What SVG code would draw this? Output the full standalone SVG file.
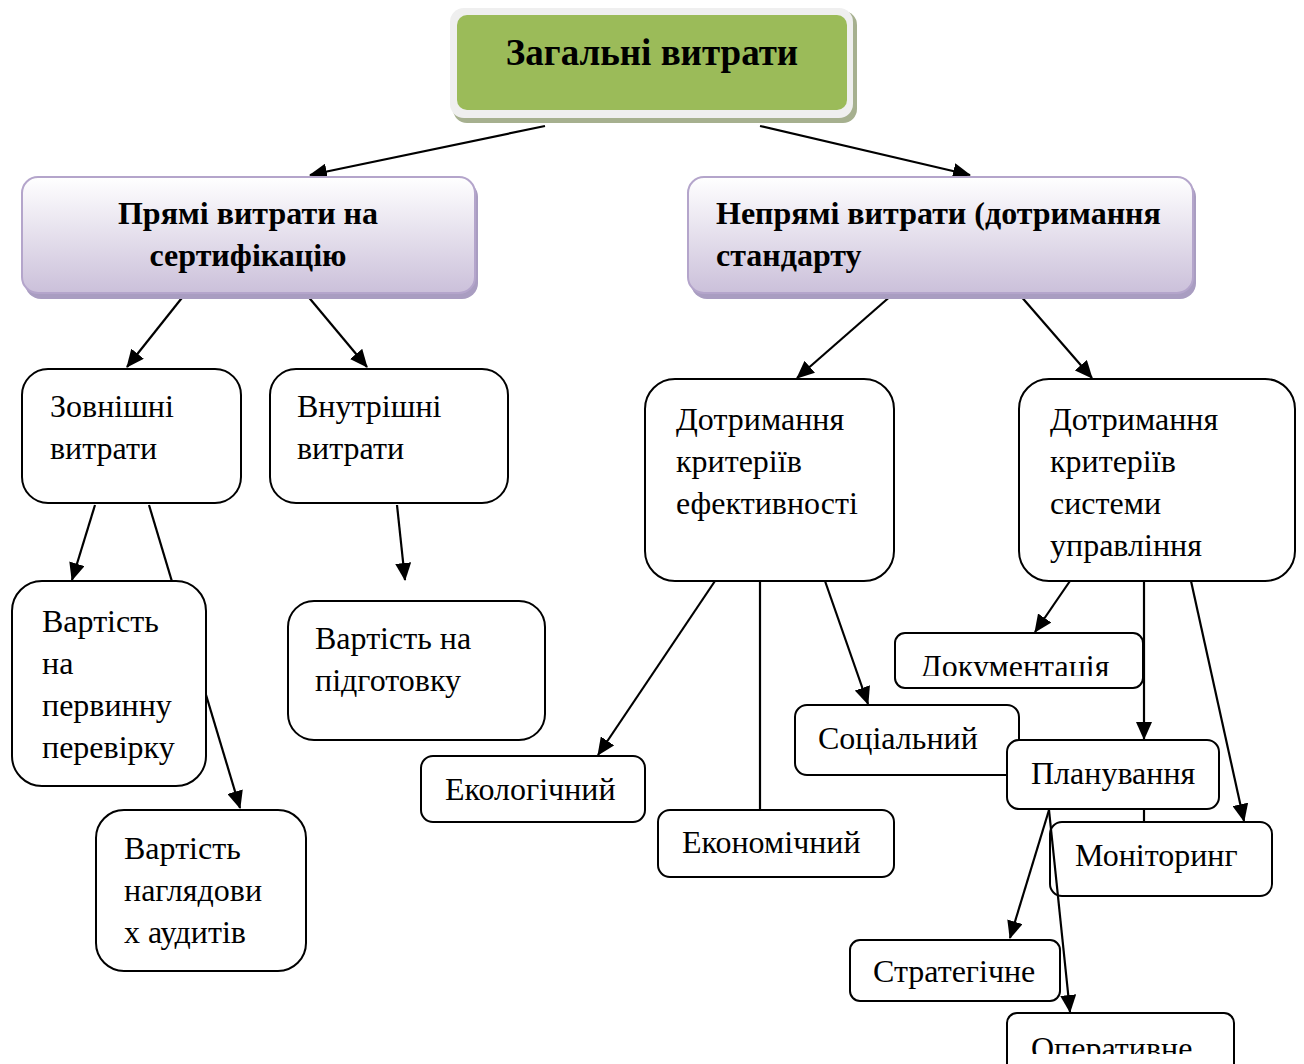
<svg xmlns="http://www.w3.org/2000/svg" width="1304" height="1064" viewBox="0 0 1304 1064">
<style>
.box{fill:#fff;stroke:#000;stroke-width:2}
.t{font-family:"Liberation Serif","Times New Roman",serif;font-size:32px;fill:#000}
.b{font-family:"Liberation Serif","Times New Roman",serif;font-size:32px;font-weight:bold;fill:#000}
.ln{stroke:#000;stroke-width:2.2;fill:none}
.ar{stroke:#000;stroke-width:2.2;fill:none;marker-end:url(#ah)}
</style>
<defs>
<marker id="ah" markerWidth="18" markerHeight="16" refX="17" refY="8" orient="auto" markerUnits="userSpaceOnUse">
<path d="M0,0 L18,8 L0,16 z" fill="#000"/>
</marker>
<linearGradient id="pg" x1="0" y1="0" x2="0" y2="1">
<stop offset="0" stop-color="#ffffff"/>
<stop offset="1" stop-color="#cbc0da"/>
</linearGradient>
<clipPath id="cDoc"><rect x="890" y="630" width="260" height="46"/></clipPath>
<clipPath id="cOp"><rect x="1000" y="1010" width="240" height="44"/></clipPath>
</defs>
<rect width="1304" height="1064" fill="#fff"/>

<g id="connectors">
<line class="ar" x1="545" y1="126" x2="310" y2="175"/>
<line class="ar" x1="760" y1="126" x2="970" y2="175"/>
<line class="ar" x1="185" y1="294" x2="127" y2="367"/>
<line class="ar" x1="306" y1="294" x2="367" y2="367"/>
<line class="ar" x1="893" y1="294" x2="797" y2="378"/>
<line class="ar" x1="1019" y1="294" x2="1092" y2="378"/>
<line class="ar" x1="95" y1="505" x2="72" y2="580"/>
<line class="ar" x1="149" y1="505" x2="240" y2="808"/>
<line class="ar" x1="397" y1="505" x2="405" y2="580"/>
<line class="ar" x1="715" y1="581" x2="598" y2="755"/>
<line class="ln" x1="760" y1="581" x2="760" y2="810"/>
<line class="ar" x1="825" y1="581" x2="868" y2="704"/>
<line class="ar" x1="1070" y1="581" x2="1035" y2="632"/>
<line class="ar" x1="1144" y1="581" x2="1144" y2="739"/>
<line class="ar" x1="1191" y1="581" x2="1244" y2="821"/>
<line class="ln" x1="1144" y1="809" x2="1144" y2="822"/>
</g>

<g id="n-total">
<rect x="453" y="11" width="404" height="112" rx="14" fill="#a6b08f"/>
<rect x="450" y="8" width="403" height="110" rx="14" fill="#efefef"/>
<rect x="457" y="15" width="390" height="95" rx="10" fill="#9bbb59"/>
<text class="b" x="652" y="65" text-anchor="middle" style="font-size:37px">Загальні витрати</text>
</g>

<g id="n-direct">
<rect x="25" y="181" width="453" height="118" rx="16" fill="#a99dc1"/>
<rect x="22" y="177" width="453" height="116" rx="16" fill="url(#pg)" stroke="#b4a5cb" stroke-width="2"/>
<text class="b" x="248" y="224" text-anchor="middle">Прямі витрати на</text>
<text class="b" x="248" y="266" text-anchor="middle">сертифікацію</text>
</g>

<g id="n-indirect">
<rect x="691" y="181" width="505" height="118" rx="16" fill="#a99dc1"/>
<rect x="688" y="177" width="505" height="116" rx="16" fill="url(#pg)" stroke="#b4a5cb" stroke-width="2"/>
<text class="b" x="716" y="224">Непрямі витрати (дотримання</text>
<text class="b" x="716" y="266">стандарту</text>
</g>

<g id="n-external">
<rect class="box" x="22" y="369" width="219" height="134" rx="26"/>
<text class="t" x="50" y="417">Зовнішні</text>
<text class="t" x="50" y="459">витрати</text>
</g>

<g id="n-internal">
<rect class="box" x="270" y="369" width="238" height="134" rx="26"/>
<text class="t" x="297" y="417">Внутрішні</text>
<text class="t" x="297" y="459">витрати</text>
</g>

<g id="n-eff">
<rect class="box" x="645" y="379" width="249" height="202" rx="30"/>
<text class="t" x="676" y="430">Дотримання</text>
<text class="t" x="676" y="472">критеріїв</text>
<text class="t" x="676" y="514">ефективності</text>
</g>

<g id="n-sys">
<rect class="box" x="1019" y="379" width="276" height="202" rx="30"/>
<text class="t" x="1050" y="430">Дотримання</text>
<text class="t" x="1050" y="472">критеріїв</text>
<text class="t" x="1050" y="514">системи</text>
<text class="t" x="1050" y="556">управління</text>
</g>

<g id="n-primary">
<rect class="box" x="12" y="581" width="194" height="205" rx="30"/>
<text class="t" x="42" y="632">Вартість</text>
<text class="t" x="42" y="674">на</text>
<text class="t" x="42" y="716">первинну</text>
<text class="t" x="42" y="758">перевірку</text>
</g>

<g id="n-audit">
<rect class="box" x="96" y="810" width="210" height="161" rx="28"/>
<text class="t" x="124" y="859">Вартість</text>
<text class="t" x="124" y="901">наглядови</text>
<text class="t" x="124" y="943">х аудитів</text>
</g>

<g id="n-prep">
<rect class="box" x="288" y="601" width="257" height="139" rx="26"/>
<text class="t" x="315" y="649">Вартість на</text>
<text class="t" x="315" y="691">підготовку</text>
</g>

<g id="n-eco">
<rect class="box" x="421" y="756" width="224" height="66" rx="12"/>
<text class="t" x="445" y="800">Екологічний</text>
</g>

<g id="n-econ">
<rect class="box" x="658" y="810" width="236" height="67" rx="12"/>
<text class="t" x="682" y="853">Економічний</text>
</g>

<g id="n-social">
<rect class="box" x="795" y="705" width="224" height="70" rx="12"/>
<text class="t" x="818" y="749">Соціальний</text>
</g>

<g id="n-doc">
<rect class="box" x="895" y="633" width="248" height="55" rx="10"/>
<text class="t" x="920" y="677" clip-path="url(#cDoc)">Документація</text>
</g>

<g id="n-plan">
<rect class="box" x="1007" y="740" width="212" height="69" rx="12"/>
<text class="t" x="1031" y="784">Планування</text>
</g>

<g id="n-mon">
<rect class="box" x="1050" y="822" width="222" height="74" rx="12"/>
<text class="t" x="1075" y="866">Моніторинг</text>
</g>

<g id="connectors-over">
<line class="ar" x1="1049" y1="810" x2="1010" y2="938"/>
<line class="ar" x1="1049" y1="810" x2="1070" y2="1012"/>
</g>

<g id="n-strat">
<rect class="box" x="850" y="940" width="210" height="61" rx="10"/>
<text class="t" x="873" y="982">Стратегічне</text>
</g>

<g id="n-oper">
<rect class="box" x="1007" y="1013" width="227" height="60" rx="10"/>
<text class="t" x="1031" y="1059" clip-path="url(#cOp)">Оперативне</text>
</g>
</svg>
